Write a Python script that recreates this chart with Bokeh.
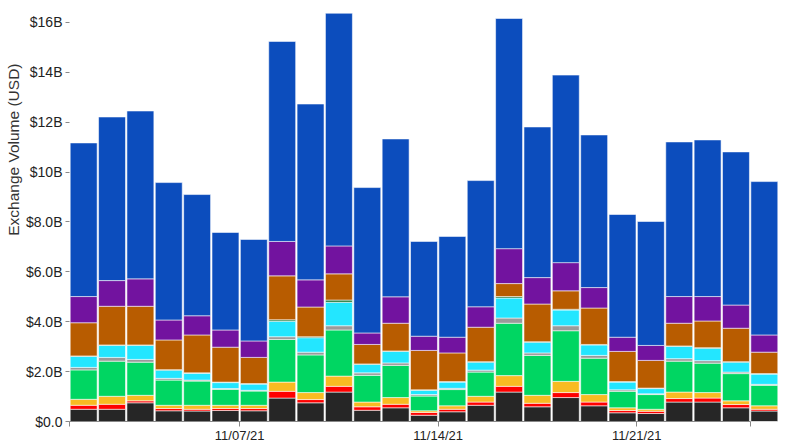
import pandas as pd
from bokeh.plotting import figure
from bokeh.models import ColumnDataSource, Range1d, FixedTicker, DatetimeTickFormatter, Title
from bokeh.embed import file_html
from bokeh.resources import INLINE

# ---- data (billions USD), stacked bottom -> top ----
dates = ["2021-11-01", "2021-11-02", "2021-11-03", "2021-11-04", "2021-11-05",
         "2021-11-06", "2021-11-07", "2021-11-08", "2021-11-09", "2021-11-10",
         "2021-11-11", "2021-11-12", "2021-11-13", "2021-11-14", "2021-11-15",
         "2021-11-16", "2021-11-17", "2021-11-18", "2021-11-19", "2021-11-20",
         "2021-11-21", "2021-11-22", "2021-11-23", "2021-11-24", "2021-11-25"]

s_black = [0.49, 0.49, 0.75, 0.43, 0.42, 0.44, 0.43, 0.94, 0.75, 1.18, 0.45, 0.55, 0.25,
           0.39, 0.65, 1.18, 0.59, 0.96, 0.63, 0.35, 0.32, 0.78, 0.78, 0.55, 0.42]
s_red = [0.16, 0.20, 0.08, 0.09, 0.07, 0.08, 0.09, 0.27, 0.13, 0.23, 0.14, 0.14, 0.11,
         0.10, 0.13, 0.23, 0.14, 0.20, 0.15, 0.09, 0.09, 0.14, 0.16, 0.13, 0.07]
s_yellow = [0.24, 0.32, 0.22, 0.13, 0.16, 0.13, 0.13, 0.37, 0.28, 0.41, 0.19, 0.27, 0.07,
            0.14, 0.23, 0.43, 0.32, 0.45, 0.30, 0.11, 0.08, 0.26, 0.22, 0.15, 0.14]
s_green = [1.18, 1.41, 1.33, 1.01, 0.97, 0.64, 0.57, 1.71, 1.51, 1.85, 1.07, 1.29, 0.59,
           0.65, 0.97, 2.10, 1.60, 2.03, 1.46, 0.66, 0.59, 1.24, 1.18, 1.09, 0.82]
s_gray = [0.10, 0.15, 0.11, 0.07, 0.04, 0.03, 0.03, 0.11, 0.11, 0.17, 0.10, 0.10, 0.06,
          0.05, 0.08, 0.21, 0.10, 0.20, 0.11, 0.06, 0.03, 0.10, 0.10, 0.06, 0.04]
s_cyan = [0.44, 0.48, 0.56, 0.33, 0.27, 0.24, 0.25, 0.62, 0.58, 0.94, 0.34, 0.46, 0.17,
          0.25, 0.32, 0.80, 0.43, 0.63, 0.42, 0.31, 0.21, 0.49, 0.50, 0.40, 0.41]
s_darkgreen = [0.02, 0.02, 0.02, 0.02, 0.02, 0.02, 0.02, 0.06, 0.04, 0.09, 0.02, 0.02, 0.02,
               0.02, 0.02, 0.06, 0.02, 0.03, 0.02, 0.02, 0.02, 0.02, 0.02, 0.02, 0.02]
s_brown = [1.33, 1.55, 1.55, 1.19, 1.52, 1.40, 1.05, 1.76, 1.19, 1.05, 0.78, 1.11, 1.58,
           1.15, 1.38, 0.52, 1.51, 0.74, 1.46, 1.21, 1.11, 0.91, 1.07, 1.34, 0.86]
s_purple = [1.05, 1.03, 1.10, 0.80, 0.77, 0.69, 0.66, 1.38, 1.09, 1.12, 0.46, 1.06, 0.57,
            0.63, 0.82, 1.40, 1.06, 1.13, 0.82, 0.57, 0.60, 1.07, 0.98, 0.93, 0.69]
s_blue = [6.16, 6.56, 6.73, 5.51, 4.86, 3.91, 4.07, 8.02, 7.05, 9.33, 5.83, 6.33, 3.80,
          4.04, 5.06, 9.23, 6.04, 7.52, 6.12, 4.92, 4.97, 6.20, 6.28, 6.14, 6.15]

series_names = ["black", "red", "yellow", "green", "gray", "cyan", "darkgreen",
                "brown", "purple", "blue"]
series_colors = ["#262626", "#fe0000", "#f8bb22", "#00d662", "#9a9a9a", "#23e6ff",
                 "#217a3c", "#b85c00", "#72139f", "#0c4dbd"]

y_ticks = [0, 2, 4, 6, 8, 10, 12, 14, 16]
y_tick_labels = ["$0.0", "$2.0B", "$4.0B", "$6.0B", "$8.0B", "$10B", "$12B", "$14B", "$16B"]
x_tick_dates = ["2021-11-01", "2021-11-07", "2021-11-14", "2021-11-21", "2021-11-25"]
x_tick_show = [False, True, True, True, False]

# ---- build ----
day = pd.Timedelta(days=1)
dt = pd.to_datetime(dates)
src = ColumnDataSource(dict(
    x=dt + day / 2,
    black=s_black, red=s_red, yellow=s_yellow, green=s_green, gray=s_gray,
    cyan=s_cyan, darkgreen=s_darkgreen, brown=s_brown, purple=s_purple, blue=s_blue,
))

x_start = dt[0]
x_end = dt[-1] + day

p = figure(width=800, height=445, x_axis_type="datetime",
           x_range=Range1d(x_start, x_end), y_range=Range1d(0, 16.48),
           output_backend="svg", toolbar_location=None,
           min_border_left=69, min_border_right=22, min_border_top=10, min_border_bottom=22)

p.vbar_stack(series_names, x="x", width=0.95 * 86400000, source=src,
             fill_color=series_colors, line_color="white", line_alpha=0.55, line_width=1)

p.xgrid.visible = False
p.ygrid.visible = False
p.outline_line_color = None

font = "Liberation Sans"

# y axis
yax = p.yaxis[0]
yax.ticker = FixedTicker(ticks=y_ticks)
yax.major_label_overrides = {t: lab for t, lab in zip(y_ticks, y_tick_labels)}
yax.axis_line_color = None
yax.major_tick_in = 0
yax.major_tick_out = 4
yax.major_tick_line_color = "#888888"
yax.minor_tick_line_color = None
yax.major_label_standoff = 3
yax.major_label_text_font = font
yax.major_label_text_font_size = "14px"
yax.major_label_text_color = "#222222"

# x axis
xt = [pd.Timestamp(d).value // 10**6 for d in x_tick_dates]
xax = p.xaxis[0]
xax.ticker = FixedTicker(ticks=xt)
xax.formatter = DatetimeTickFormatter(days="%m/%d/%y", months="%m/%d/%y", years="%m/%d/%y")
xax.major_label_overrides = {t: "" for t, s in zip(xt, x_tick_show) if not s}
xax.bounds = (xt[0], xt[-1])
xax.axis_line_color = "#888888"
xax.major_tick_in = 0
xax.major_tick_out = 5
xax.major_tick_line_color = "#888888"
xax.minor_tick_line_color = None
xax.major_label_standoff = 1
xax.major_label_text_font = font
xax.major_label_text_font_size = "13px"
xax.major_label_text_color = "#222222"

# y axis title
p.add_layout(Title(text="Exchange Volume (USD)", align="right", offset=53, standoff=2,
                   text_font=font, text_font_size="15.5px", text_font_style="normal",
                   text_color="#333333"), "left")

open("out.html", "w").write(file_html(p, INLINE))
